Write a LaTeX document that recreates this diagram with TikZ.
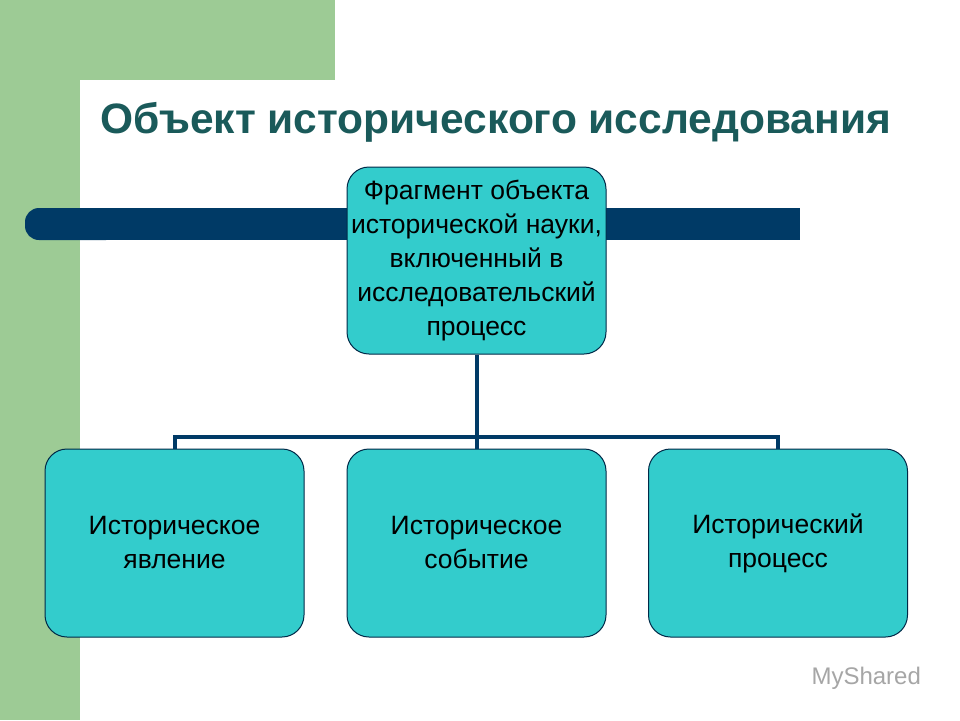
\documentclass[tikz,border=0pt]{standalone}
\usepackage{fontspec}
\setmainfont{Liberation Sans}
\definecolor{grn}{HTML}{9DCB95}
\definecolor{navy}{HTML}{003A66}
\definecolor{teal1}{HTML}{33CCCC}
\definecolor{ttl}{HTML}{1A5A5A}
\begin{document}
\begin{tikzpicture}[x=1pt,y=-1pt,
  box/.style={draw=navy!70!black,line width=1pt,fill=teal1,rounded corners=22pt,minimum width=259pt,minimum height=188pt,align=center,font=\fontsize{26.5}{34}\selectfont,inner sep=0pt},
  conn/.style={draw=navy,line width=4pt}]
\useasboundingbox (0,0) rectangle (960,720);
\fill[grn] (0,0) rectangle (335,80);
\fill[grn] (0,0) rectangle (80,720);
\fill[white] (80,720) -- (80,120) arc[start angle=180,end angle=270,radius=40] -- (960,80) -- (960,720) -- cycle;
\fill[navy,rounded corners=14pt] (25,208) rectangle (120,240);
\fill[navy] (60,208) rectangle (800,240);
\node[font=\bfseries\fontsize{42.5}{46}\selectfont,text=ttl,anchor=base west] (t) at (97,133) {Объект исторического исследования};
\node[box,minimum height=187pt] (top) at (476.5,260.5) {Фрагмент объекта\\исторической науки,\\включенный в\\исследовательский\\процесс};
\node[box] (a) at (174.5,543) {Историческое\\явление};
\node[box] (b) at (476.5,543) {Историческое\\событие};
\node[box] (c) at (778,543) {Исторический\\процесс};
\coordinate (j) at (476.5,437);
\draw[conn] (top.south) -- (j);
\draw[conn] (a.north) |- (j) -| (c.north);
\draw[conn] (j) -- (b.north);
\node[text=gray!70,font=\fontsize{24}{26}\selectfont,anchor=base west] (w) at (808,684) {MyShared};
\end{tikzpicture}
\end{document}
